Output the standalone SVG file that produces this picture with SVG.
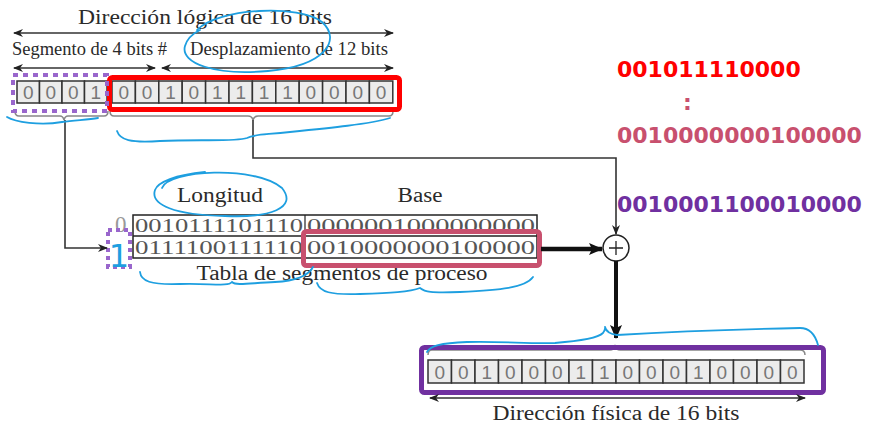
<svg xmlns="http://www.w3.org/2000/svg" width="885" height="435" viewBox="0 0 885 435">
<defs>
<marker id="ah" markerWidth="10" markerHeight="8" refX="9" refY="4" orient="auto-start-reverse" markerUnits="userSpaceOnUse"><path d="M0,0 L10,4 L0,8 L3,4 Z" fill="#222"/></marker>
<marker id="ahb" markerWidth="14" markerHeight="12" refX="13" refY="6" orient="auto-start-reverse" markerUnits="userSpaceOnUse"><path d="M0,0 L14,6 L0,12 L3,6 Z" fill="#111"/></marker>
</defs>
<style>
.t{font-family:"Liberation Serif","Times New Roman",serif;fill:#2a2a2a}
.cell{fill:#ececec;stroke:#333;stroke-width:1.5}
.bit{font-family:"Liberation Sans",Arial,sans-serif;font-size:19px;fill:#777;text-anchor:middle}
.tb{font-family:"Liberation Serif","Times New Roman",serif;font-size:19px;fill:#555}
.idx{font-family:"Liberation Serif","Times New Roman",serif;font-size:23px;fill:#999}
.ln{fill:none;stroke:#333;stroke-width:1.6}
.br{fill:none;stroke:#888;stroke-width:1.5}
.blue{fill:none;stroke:#1e9fe0;stroke-width:1.8;stroke-linecap:round}
.num{font-family:"DejaVu Sans",Verdana,sans-serif;font-weight:bold;font-size:22px}
</style>
<rect width="885" height="435" fill="#fff"/>

<g id="logical-address">
<text class="t" x="205" y="24" font-size="20" text-anchor="middle" textLength="254" lengthAdjust="spacingAndGlyphs">Dirección lógica de 16 bits</text>
<line class="ln" x1="14" y1="33" x2="393" y2="33" marker-start="url(#ah)" marker-end="url(#ah)"/>
<text class="t" x="12" y="55" font-size="18" textLength="155" lengthAdjust="spacingAndGlyphs">Segmento de 4 bits #</text>
<text class="t" x="190" y="55" font-size="18" textLength="198" lengthAdjust="spacingAndGlyphs">Desplazamiento de 12 bits</text>
<line class="ln" x1="14" y1="68" x2="155" y2="68" marker-start="url(#ah)" marker-end="url(#ah)"/>
<line class="ln" x1="162" y1="68" x2="393" y2="68" marker-start="url(#ah)" marker-end="url(#ah)"/>
<g>
<rect class="cell" x="17" y="81" width="22.5" height="22"/>
<rect class="cell" x="39.5" y="81" width="22.5" height="22"/>
<rect class="cell" x="62" y="81" width="22.5" height="22"/>
<rect class="cell" x="84.5" y="81" width="22.5" height="22"/>
<rect class="cell" x="112" y="81" width="23.4" height="22"/>
<rect class="cell" x="135.4" y="81" width="23.4" height="22"/>
<rect class="cell" x="158.8" y="81" width="23.4" height="22"/>
<rect class="cell" x="182.2" y="81" width="23.4" height="22"/>
<rect class="cell" x="205.6" y="81" width="23.4" height="22"/>
<rect class="cell" x="229" y="81" width="23.4" height="22"/>
<rect class="cell" x="252.4" y="81" width="23.4" height="22"/>
<rect class="cell" x="275.8" y="81" width="23.4" height="22"/>
<rect class="cell" x="299.2" y="81" width="23.4" height="22"/>
<rect class="cell" x="322.6" y="81" width="23.4" height="22"/>
<rect class="cell" x="346" y="81" width="23.4" height="22"/>
<rect class="cell" x="369.4" y="81" width="23.4" height="22"/>
<text class="bit" x="28.25 50.75 73.25 95.75" y="99">0001</text>
<text class="bit" x="123.7 147.1 170.5 193.9 217.3 240.7 264.1 287.5 310.9 334.3 357.7 381.1" y="99">001011110000</text>
</g>
<path class="br" d="M15,111 Q15,116 19,116 L60,116 Q63,116 64,120 Q65,116 68,116 L104,116 Q108,116 108,111"/>
<path class="br" d="M110,111 Q110,116 114,116 L248,116 Q252,116 253,120 Q254,116 258,116 L389,116 Q393,116 393,111"/>
<rect x="109.5" y="77.5" width="290" height="32" rx="3" fill="none" stroke="#ff0000" stroke-width="5"/>
<rect x="13" y="75" width="94" height="36" fill="none" stroke="#9966cc" stroke-width="4" stroke-dasharray="5 5"/>
</g>

<g id="segment-table">
<text class="t" x="220" y="202" font-size="20" text-anchor="middle" textLength="86" lengthAdjust="spacingAndGlyphs">Longitud</text>
<text class="t" x="420" y="202" font-size="20" text-anchor="middle" textLength="45" lengthAdjust="spacingAndGlyphs">Base</text>
<rect x="133" y="215" width="404" height="43" fill="#fff" stroke="#222" stroke-width="1.5"/>
<line x1="133" y1="236" x2="537" y2="236" stroke="#222" stroke-width="1.5"/>
<line x1="305" y1="215" x2="305" y2="258" stroke="#222" stroke-width="1.2"/>
<text class="idx" x="115" y="232">0</text>
<text class="tb" x="135" y="232" textLength="168" lengthAdjust="spacingAndGlyphs">0010111101110</text>
<text class="tb" x="307" y="232" textLength="228" lengthAdjust="spacingAndGlyphs">0000001000000000</text>
<text class="tb" x="135" y="254" textLength="168" lengthAdjust="spacingAndGlyphs">0111100111110</text>
<text class="tb" x="307" y="254" textLength="228" lengthAdjust="spacingAndGlyphs">0010000000100000</text>
<text class="t" x="342" y="280" font-size="20" text-anchor="middle" textLength="291" lengthAdjust="spacingAndGlyphs">Tabla de segmentos de proceso</text>
<rect x="303.5" y="231.5" width="236" height="34" rx="3" fill="none" stroke="#c8506e" stroke-width="5"/>
<rect x="108" y="230" width="22" height="37" fill="none" stroke="#9966cc" stroke-width="4" stroke-dasharray="4 4"/>
<text x="119" y="267" font-family="DejaVu Sans, sans-serif" font-size="32" fill="#1e9fe0" text-anchor="middle">1</text>
</g>

<g id="adder">
<circle cx="616" cy="248" r="13" fill="#fff" stroke="#222" stroke-width="1.5"/>
<path d="M609,248 H623 M616,241 V255" stroke="#222" stroke-width="1.3"/>
</g>

<g id="physical-address">
<path class="br" d="M428,355 Q428,350 432,350 L610,350 Q614,350 615,345 Q616,350 620,350 L800,350 Q805,350 805,355" stroke="#555"/>
<g>
<rect class="cell" x="428" y="360" width="23.5" height="23"/>
<rect class="cell" x="451.5" y="360" width="23.5" height="23"/>
<rect class="cell" x="475" y="360" width="23.5" height="23"/>
<rect class="cell" x="498.5" y="360" width="23.5" height="23"/>
<rect class="cell" x="522" y="360" width="23.5" height="23"/>
<rect class="cell" x="545.5" y="360" width="23.5" height="23"/>
<rect class="cell" x="569" y="360" width="23.5" height="23"/>
<rect class="cell" x="592.5" y="360" width="23.5" height="23"/>
<rect class="cell" x="616" y="360" width="23.5" height="23"/>
<rect class="cell" x="639.5" y="360" width="23.5" height="23"/>
<rect class="cell" x="663" y="360" width="23.5" height="23"/>
<rect class="cell" x="686.5" y="360" width="23.5" height="23"/>
<rect class="cell" x="710" y="360" width="23.5" height="23"/>
<rect class="cell" x="733.5" y="360" width="23.5" height="23"/>
<rect class="cell" x="757" y="360" width="23.5" height="23"/>
<rect class="cell" x="780.5" y="360" width="23.5" height="23"/>
<text class="bit" x="439.75 463.25 486.75 510.25 533.75 557.25 580.75 604.25 627.75 651.25 674.75 698.25 721.75 745.25 768.75 792.25" y="379">0010001100010000</text>
</g>
<rect x="421.5" y="347.5" width="402" height="45" rx="3" fill="none" stroke="#7030a0" stroke-width="5"/>
<line class="ln" x1="430" y1="398" x2="805" y2="398" marker-start="url(#ah)" marker-end="url(#ah)"/>
<text class="t" x="616" y="420" font-size="20" text-anchor="middle" textLength="247" lengthAdjust="spacingAndGlyphs">Dirección física de 16 bits</text>
</g>

<g id="connectors">
<path class="ln" d="M65,120 V248 H107" marker-end="url(#ah)" stroke-width="2"/>
<path class="ln" d="M253,120 V158 H616 V234" marker-end="url(#ah)" stroke="#555" stroke-width="2"/>
<line x1="541" y1="249" x2="602" y2="249" stroke="#111" stroke-width="4.5" marker-end="url(#ahb)"/>
<line x1="616" y1="261" x2="616" y2="338" stroke="#111" stroke-width="4" marker-end="url(#ahb)"/>
</g>

<g id="annotations">
<text class="num" x="617" y="77" fill="#ff0000">001011110000</text>
<text class="num" x="683" y="110" fill="#c8506e">:</text>
<text class="num" x="617" y="143" fill="#c8506e">0010000000100000</text>
<text class="num" x="617" y="212" fill="#7030a0">0010001100010000</text>
<path class="blue" d="M197,30 C218,8 300,4 322,22 C342,40 325,66 268,71 C215,76 180,63 185,46 C187,39 192,34 200,30"/>
<path class="blue" d="M7,117 C15,122 40,126 62,122 C75,120 88,120 98,118"/>
<path class="blue" d="M117,131 C120,140 130,143 160,141 C200,139 235,142 247,138 C255,134 262,135 290,132 C330,128 370,124 390,118"/>
<path class="blue" d="M162,188 C168,170 255,165 282,188 C298,208 270,218 225,216 C175,215 150,205 155,190 C158,182 175,175 205,172"/>
<path class="blue" d="M140,272 C141,281 150,285 180,284 C210,283 228,287 232,282 C236,286 250,283 275,282 C295,281 308,276 313,267"/>
<path class="blue" d="M317,283 C320,292 330,295 360,294 C390,293 410,292 420,288 C425,292 430,293 460,292 C500,290 525,288 533,277"/>
<path class="blue" d="M427,352 C430,346 440,343 467,342 C500,341 530,344 555,343 C580,341 598,338 603,333 C606,329 605,326 605,327 C606,331 609,334 617,335 C650,333 700,330 800,328 C810,328 815,334 818,345"/>
</g>
</svg>
